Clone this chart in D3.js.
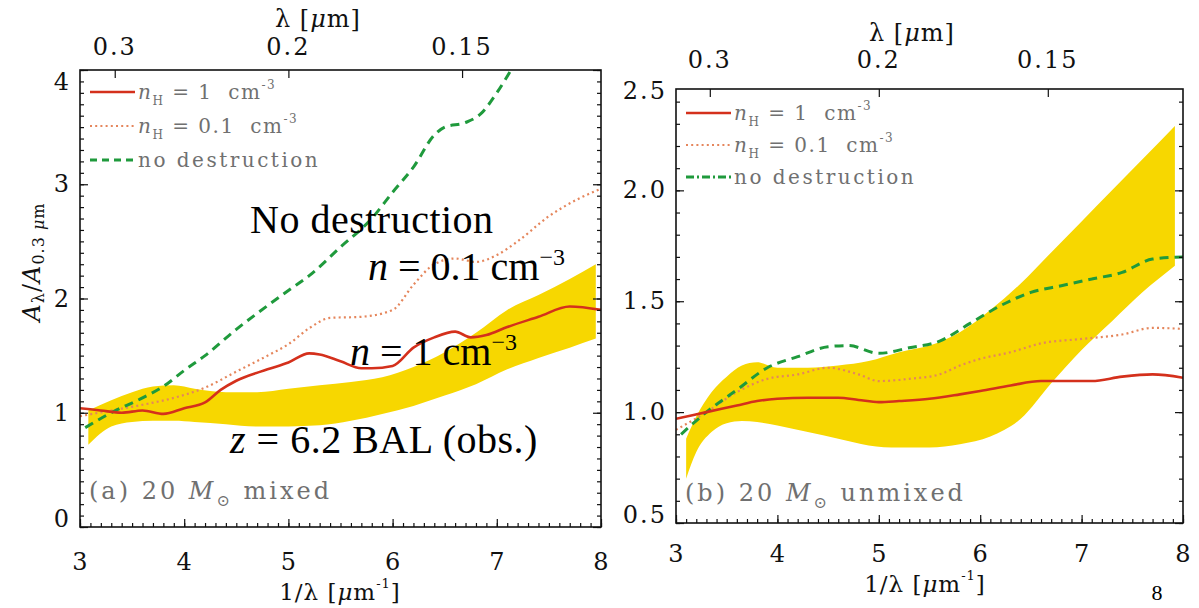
<!DOCTYPE html>
<html>
<head>
<meta charset="utf-8">
<script src="https://cdn.jsdelivr.net/npm/d3@7/dist/d3.min.js"></script>
<style>
  html, body { margin: 0; padding: 0; background: #fff; }
  svg { display: block; }
  text { white-space: pre; }
</style>
</head>
<body>
<svg id="fig" width="1199" height="608"></svg>
<script>
// ---------------- data ----------------
const xMajorTicks = [3, 4, 5, 6, 7, 8];
const xTickLabels = ["3", "4", "5", "6", "7", "8"];
const lambdaTicks = [0.3, 0.2, 0.15];
const lambdaTickLabels = ["0.3", "0.2", "0.15"];

const yTicksA = [0, 1, 2, 3, 4];
const yTickLabelsA = ["0", "1", "2", "3", "4"];
const yTicksB = [0.5, 1.0, 1.5, 2.0, 2.5];
const yTickLabelsB = ["0.5", "1.0", "1.5", "2.0", "2.5"];

// (a) 20 Msun mixed
const bandA_x  = [3.08, 3.3, 3.5, 3.7, 3.9, 4.1, 4.4, 4.7, 5.0, 5.3, 5.6, 5.9, 6.2, 6.5, 6.8, 7.1, 7.4, 7.7, 7.95];
const bandA_hi = [1.02, 1.11, 1.18, 1.23, 1.24, 1.21, 1.18, 1.18, 1.21, 1.24, 1.27, 1.31, 1.40, 1.53, 1.70, 1.90, 2.03, 2.17, 2.30];
const bandA_lo = [0.72, 0.88, 0.92, 0.93, 0.93, 0.92, 0.90, 0.88, 0.88, 0.89, 0.93, 0.99, 1.06, 1.15, 1.25, 1.38, 1.48, 1.57, 1.65];

const redA_x = [3.0, 3.2, 3.4, 3.6, 3.8, 4.0, 4.2, 4.35, 4.5, 4.8, 5.0, 5.2, 5.3, 5.5, 5.7, 5.8, 6.0, 6.2, 6.4, 6.6, 6.75, 6.9, 7.1, 7.4, 7.7, 8.0];
const redA_y = [1.04, 1.02, 1.00, 1.02, 0.99, 1.04, 1.09, 1.20, 1.28, 1.38, 1.44, 1.52, 1.51, 1.45, 1.39, 1.39, 1.41, 1.57, 1.66, 1.71, 1.66, 1.68, 1.75, 1.84, 1.93, 1.90];

const orangeA_x = [3.0, 3.3, 3.6, 3.9, 4.2, 4.5, 4.8, 5.0, 5.2, 5.4, 5.7, 6.0, 6.2, 6.4, 6.6, 6.8, 7.0, 7.2, 7.5, 7.8, 8.0];
const orangeA_y = [0.97, 1.02, 1.07, 1.13, 1.22, 1.36, 1.50, 1.60, 1.74, 1.83, 1.84, 1.90, 2.12, 2.30, 2.35, 2.32, 2.38, 2.50, 2.72, 2.88, 2.96];

const greenA_x = [3.05, 3.3, 3.6, 3.8, 4.0, 4.2, 4.5, 4.7, 5.0, 5.2, 5.5, 5.8, 6.0, 6.2, 6.4, 6.5, 6.7, 6.85, 7.0, 7.15, 7.3];
const greenA_y = [0.87, 1.0, 1.13, 1.23, 1.37, 1.50, 1.73, 1.87, 2.07, 2.20, 2.45, 2.70, 2.93, 3.15, 3.43, 3.50, 3.54, 3.62, 3.80, 4.02, 4.25];

// (b) 20 Msun unmixed
const bandB_x  = [3.1, 3.2, 3.35, 3.5, 3.65, 3.8, 4.0, 4.3, 4.6, 4.9, 5.2, 5.5, 5.8, 6.1, 6.4, 6.7, 7.0, 7.3, 7.6, 7.92];
const bandB_hi = [0.88, 0.98, 1.09, 1.16, 1.21, 1.225, 1.20, 1.20, 1.21, 1.23, 1.27, 1.30, 1.36, 1.46, 1.58, 1.72, 1.86, 2.00, 2.14, 2.29];
const bandB_lo = [0.70, 0.82, 0.91, 0.95, 0.96, 0.955, 0.94, 0.91, 0.88, 0.85, 0.84, 0.84, 0.855, 0.89, 0.97, 1.13, 1.28, 1.41, 1.54, 1.66];

const redB_x = [3.0, 3.3, 3.6, 3.8, 4.0, 4.3, 4.6, 4.8, 5.0, 5.2, 5.5, 5.8, 6.0, 6.3, 6.6, 6.8, 7.1, 7.4, 7.7, 8.0];
const redB_y = [0.97, 1.0, 1.03, 1.05, 1.06, 1.065, 1.065, 1.055, 1.045, 1.05, 1.06, 1.08, 1.095, 1.12, 1.14, 1.14, 1.14, 1.16, 1.17, 1.155];

const orangeB_x = [3.0, 3.3, 3.6, 3.9, 4.2, 4.5, 4.8, 5.0, 5.3, 5.6, 5.8, 6.0, 6.3, 6.6, 7.0, 7.4, 7.7, 8.0];
const orangeB_y = [0.92, 1.0, 1.09, 1.15, 1.17, 1.20, 1.17, 1.14, 1.15, 1.17, 1.21, 1.24, 1.27, 1.31, 1.33, 1.35, 1.38, 1.375];

const greenB_x = [3.05, 3.3, 3.6, 3.9, 4.2, 4.5, 4.7, 5.0, 5.3, 5.6, 5.9, 6.2, 6.5, 6.8, 7.1, 7.4, 7.7, 8.0];
const greenB_y = [0.90, 1.0, 1.10, 1.20, 1.25, 1.295, 1.30, 1.265, 1.29, 1.32, 1.40, 1.48, 1.54, 1.57, 1.60, 1.63, 1.69, 1.70];

// ---------------- styles ----------------
const COL_BAND = "#f7d700";
const COL_RED = "#d4301c";
const COL_ORANGE = "#e5865c";
const COL_GREEN = "#1f9a3c";
const COL_GRAY = "#707070";
const AXIS_FONT = "'DejaVu Serif', serif";
const NOTE_FONT = "'Liberation Serif', 'Times New Roman', serif";

const svg = d3.select("#fig");
const defs = svg.append("defs");

function zip(xs, ys) { return xs.map((v, i) => ({ x: v, y: ys[i] })); }

function legendNH(textSel, val) {
  textSel.append("tspan").attr("font-style", "italic").text("n");
  textSel.append("tspan").attr("font-size", "12px").attr("dy", 6).text("H");
  textSel.append("tspan").attr("dy", -6).text(" = " + val + "  cm");
  textSel.append("tspan").attr("font-size", "12px").attr("dy", -10).text("-3");
}

function drawPanel(p) {
  const x = d3.scaleLinear().domain([3, 8]).range([p.left, p.right]);
  const y = d3.scaleLinear().domain(p.yDomain).range([p.bottom, p.top]);
  const g = svg.append("g");

  defs.append("clipPath").attr("id", "clip-" + p.id)
    .append("rect")
    .attr("x", p.left).attr("y", p.top)
    .attr("width", p.right - p.left).attr("height", p.bottom - p.top);

  const plot = g.append("g").attr("clip-path", "url(#clip-" + p.id + ")");

  // observed extinction band
  const band = p.bandX.map((v, i) => ({ x: v, lo: p.bandLo[i], hi: p.bandHi[i] }));
  plot.append("path").datum(band)
    .attr("fill", COL_BAND)
    .attr("d", d3.area().x(d => x(d.x)).y0(d => y(d.lo)).y1(d => y(d.hi)).curve(d3.curveMonotoneX));

  const line = d3.line().x(d => x(d.x)).y(d => y(d.y)).curve(d3.curveMonotoneX);

  plot.append("path").datum(zip(p.orangeX, p.orangeY))
    .attr("fill", "none").attr("stroke", COL_ORANGE).attr("stroke-width", 2.2)
    .attr("stroke-dasharray", "2 3.2").attr("d", line);
  plot.append("path").datum(zip(p.greenX, p.greenY))
    .attr("fill", "none").attr("stroke", COL_GREEN).attr("stroke-width", 3)
    .attr("stroke-dasharray", "9 6").attr("d", line);
  plot.append("path").datum(zip(p.redX, p.redY))
    .attr("fill", "none").attr("stroke", COL_RED).attr("stroke-width", 2.6)
    .attr("d", line);

  // axes: ticks point into the plot
  const minorX = d3.range(30, 81).map(v => v / 10);
  const minorY = d3.range(Math.round(p.yDomain[0] * 10), Math.floor(p.yDomain[1] * 10 + 1e-6) + 1).map(v => v / 10);
  const majorY = p.yTicks.filter(v => v <= p.yDomain[1] + 1e-9);

  const axes = g.append("g").attr("class", "axes");
  axes.append("g").attr("transform", `translate(0,${p.bottom})`)
    .call(d3.axisBottom(x).tickValues(minorX).tickSize(-4).tickFormat(""));
  axes.append("g").attr("transform", `translate(0,${p.bottom})`)
    .call(d3.axisBottom(x).tickValues(xMajorTicks).tickSize(-8).tickFormat(""));
  axes.append("g").attr("transform", `translate(0,${p.top})`)
    .call(d3.axisTop(x).tickValues(lambdaTicks.map(l => 1 / l)).tickSize(-8).tickFormat(""));
  axes.append("g").attr("transform", `translate(${p.left},0)`)
    .call(d3.axisLeft(y).tickValues(minorY).tickSize(-4).tickFormat(""));
  axes.append("g").attr("transform", `translate(${p.left},0)`)
    .call(d3.axisLeft(y).tickValues(majorY).tickSize(-8).tickFormat(""));
  axes.append("g").attr("transform", `translate(${p.right},0)`)
    .call(d3.axisRight(y).tickValues(minorY).tickSize(-4).tickFormat(""));
  axes.append("g").attr("transform", `translate(${p.right},0)`)
    .call(d3.axisRight(y).tickValues(majorY).tickSize(-8).tickFormat(""));
  axes.selectAll(".domain").remove();
  axes.selectAll(".tick line").attr("stroke", "#111").attr("stroke-width", 1.2);

  g.append("rect")
    .attr("x", p.left).attr("y", p.top)
    .attr("width", p.right - p.left).attr("height", p.bottom - p.top)
    .attr("fill", "none").attr("stroke", "#111").attr("stroke-width", 1.6);

  // tick labels
  const lab = g.append("g").attr("font-family", AXIS_FONT).attr("font-size", "24px").attr("fill", "#111");
  lab.selectAll(".xl").data(xMajorTicks).join("text")
    .attr("x", d => x(d)).attr("y", p.bottom + p.xLabOff)
    .attr("text-anchor", "middle").attr("dominant-baseline", "central")
    .text((d, i) => xTickLabels[i]);
  lab.selectAll(".ll").data(lambdaTicks).join("text")
    .attr("x", d => x(1 / d)).attr("y", p.top - p.topLabOff)
    .attr("text-anchor", "middle").attr("dominant-baseline", "central")
    .attr("letter-spacing", "2px")
    .text((d, i) => lambdaTickLabels[i]);
  const n = p.yTicks.length;
  lab.selectAll(".yl").data(p.yTicks).join("text")
    .attr("x", p.left - 9)
    .attr("y", (d, i) => y(d) + (i === 0 ? -8 : (i === n - 1 ? 12 : 0)))
    .attr("text-anchor", "end").attr("dominant-baseline", "central")
    .attr("letter-spacing", "2px")
    .text((d, i) => p.yTickLabels[i]);

  // axis titles
  const t1 = lab.append("text").attr("x", p.topTitle[0]).attr("y", p.topTitle[1])
    .attr("text-anchor", "middle").attr("dominant-baseline", "central").attr("letter-spacing", "1px");
  t1.append("tspan").text("λ [");
  t1.append("tspan").attr("font-style", "italic").text("μ");
  t1.append("tspan").text("m]");

  const t2 = lab.append("text").attr("x", p.botTitle[0]).attr("y", p.botTitle[1])
    .attr("font-size", "23px")
    .attr("text-anchor", "middle").attr("dominant-baseline", "central").attr("letter-spacing", "1px");
  t2.append("tspan").text("1/λ [");
  t2.append("tspan").attr("font-style", "italic").text("μ");
  t2.append("tspan").text("m");
  t2.append("tspan").attr("font-size", "13px").attr("dy", -9).text("-1");
  t2.append("tspan").attr("dy", 9).text("]");

  // legend
  const leg = g.append("g").attr("font-family", AXIS_FONT).attr("font-size", "20px").attr("fill", COL_GRAY);
  const lx0 = p.left + 10, lx1 = p.left + 55;
  const ly = p.legendY;
  leg.append("line").attr("x1", lx0).attr("x2", lx1).attr("y1", ly[0]).attr("y2", ly[0])
    .attr("stroke", COL_RED).attr("stroke-width", 2.6);
  leg.append("line").attr("x1", lx0).attr("x2", lx1).attr("y1", ly[1]).attr("y2", ly[1])
    .attr("stroke", COL_ORANGE).attr("stroke-width", 2.2).attr("stroke-dasharray", "2 3.2");
  leg.append("line").attr("x1", lx0).attr("x2", lx1).attr("y1", ly[2]).attr("y2", ly[2])
    .attr("stroke", COL_GREEN).attr("stroke-width", 3).attr("stroke-dasharray", p.legendGreenDash);
  legendNH(leg.append("text").attr("x", lx1 + 3).attr("y", ly[0] + 7).attr("letter-spacing", "1.5px"), "1");
  legendNH(leg.append("text").attr("x", lx1 + 3).attr("y", ly[1] + 7).attr("letter-spacing", "1.5px"), "0.1");
  leg.append("text").attr("x", lx1 + 3).attr("y", ly[2] + 7).attr("letter-spacing", "2.5px").text("no destruction");

  // panel label
  const pl = g.append("text").attr("x", p.left + 9).attr("y", p.panelLabelY)
    .attr("font-family", AXIS_FONT).attr("font-size", "24px").attr("fill", COL_GRAY)
    .attr("letter-spacing", "3px");
  pl.append("tspan").text(p.panelTag + " 20 ");
  pl.append("tspan").attr("font-style", "italic").text("M");
  pl.append("tspan").attr("font-size", "16px").attr("dy", 7).text("⊙");
  pl.append("tspan").attr("dy", -7).text(" " + p.panelName);

  return { x, y };
}

const panelA = drawPanel({
  id: "a", left: 80, right: 601, top: 70, bottom: 527, yDomain: [0, 4],
  yTicks: yTicksA, yTickLabels: yTickLabelsA,
  bandX: bandA_x, bandLo: bandA_lo, bandHi: bandA_hi,
  redX: redA_x, redY: redA_y, orangeX: orangeA_x, orangeY: orangeA_y, greenX: greenA_x, greenY: greenA_y,
  xLabOff: 35, topLabOff: 23, topTitle: [318, 19], botTitle: [340, 592],
  legendY: [92, 126, 160], legendGreenDash: "7 5",
  panelTag: "(a)", panelName: "mixed", panelLabelY: 499
});

const panelB = drawPanel({
  id: "b", left: 676, right: 1183, top: 89, bottom: 523, yDomain: [0.5, 2.457],
  yTicks: yTicksB, yTickLabels: yTickLabelsB,
  bandX: bandB_x, bandLo: bandB_lo, bandHi: bandB_hi,
  redX: redB_x, redY: redB_y, orangeX: orangeB_x, orangeY: orangeB_y, greenX: greenB_x, greenY: greenB_y,
  xLabOff: 31, topLabOff: 29, topTitle: [912, 33], botTitle: [925, 584],
  legendY: [113, 145, 177], legendGreenDash: "8 3 2 3",
  panelTag: "(b)", panelName: "unmixed", panelLabelY: 501
});

// left y-axis title
const yt = svg.append("text")
  .attr("transform", "translate(32,262) rotate(-90)")
  .attr("text-anchor", "middle").attr("dominant-baseline", "central")
  .attr("font-family", AXIS_FONT).attr("font-size", "24px").attr("fill", "#111")
  .attr("letter-spacing", "1px");
yt.append("tspan").attr("font-style", "italic").text("A");
yt.append("tspan").attr("font-size", "16px").attr("dy", 6).text("λ");
yt.append("tspan").attr("dy", -6).text("/");
yt.append("tspan").attr("font-style", "italic").text("A");
yt.append("tspan").attr("font-size", "16px").attr("dy", 6).text("0.3 ");
yt.append("tspan").attr("font-size", "16px").attr("font-style", "italic").text("μ");
yt.append("tspan").attr("font-size", "16px").text("m");

// annotations in panel (a)
const notes = svg.append("g").attr("font-family", NOTE_FONT).attr("font-size", "40px").attr("fill", "#000");
notes.append("text").attr("x", 250).attr("y", 233).attr("letter-spacing", "0.5px").text("No destruction");
const n01 = notes.append("text").attr("x", 368).attr("y", 280);
n01.append("tspan").attr("font-style", "italic").text("n");
n01.append("tspan").text(" = 0.1 cm");
n01.append("tspan").attr("font-size", "24px").attr("dy", -15).text("−3");
const n1 = notes.append("text").attr("x", 350).attr("y", 365);
n1.append("tspan").attr("font-style", "italic").text("n");
n1.append("tspan").text(" = 1 cm");
n1.append("tspan").attr("font-size", "24px").attr("dy", -15).text("−3");
const zb = notes.append("text").attr("x", 230).attr("y", 453).attr("letter-spacing", "0.5px");
zb.append("tspan").attr("font-style", "italic").text("z");
zb.append("tspan").text(" = 6.2 BAL (obs.)");

// page number
svg.append("text").attr("x", 1157).attr("y", 600).attr("text-anchor", "middle")
  .attr("font-family", NOTE_FONT).attr("font-size", "22px").attr("fill", "#000").text("8");
</script>
</body>
</html>
